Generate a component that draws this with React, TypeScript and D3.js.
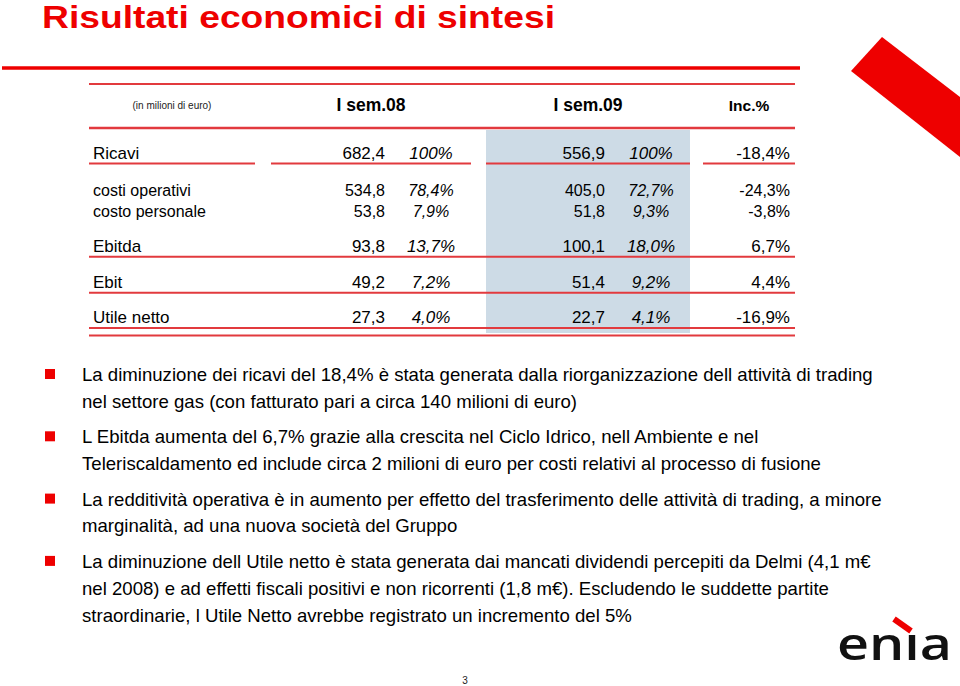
import React from 'react';
import * as d3 from 'd3';

// ---------- DATA ----------
const title = 'Risultati economici di sintesi';
const unitNote = '(in milioni di euro)';
const columnHeaders = ['I sem.08', 'I sem.09', 'Inc.%'];
const rowLabels = ['Ricavi', 'costi operativi', 'costo personale', 'Ebitda', 'Ebit', 'Utile netto'];
const rowIsMajor = [true, false, false, true, true, true];
const sem08Values = [682.4, 534.8, 53.8, 93.8, 49.2, 27.3];
const sem08Share = [100, 78.4, 7.9, 13.7, 7.2, 4.0];
const sem09Values = [556.9, 405.0, 51.8, 100.1, 51.4, 22.7];
const sem09Share = [100, 72.7, 9.3, 18.0, 9.2, 4.1];
const incPct = [-18.4, -24.3, -3.8, 6.7, 4.4, -16.9];
const bullets = [
  [
    'La diminuzione dei ricavi del 18,4% è stata generata dalla riorganizzazione dell attività di trading',
    'nel settore gas (con fatturato pari a circa 140 milioni di euro)',
  ],
  [
    'L Ebitda aumenta del 6,7% grazie alla crescita nel Ciclo Idrico, nell Ambiente e nel',
    'Teleriscaldamento ed include circa 2 milioni di euro per costi relativi al processo di fusione',
  ],
  [
    'La redditività operativa è in aumento per effetto del trasferimento delle attività di trading, a minore',
    'marginalità, ad una nuova società del Gruppo',
  ],
  [
    'La diminuzione dell Utile netto è stata generata dai mancati dividendi percepiti da Delmi (4,1 m€',
    'nel 2008) e ad effetti fiscali positivi e  non ricorrenti (1,8 m€). Escludendo le suddette partite',
    'straordinarie, l Utile Netto avrebbe registrato un incremento del 5%',
  ],
];
const pageNumber = '3';
const logoText = 'enıa';

// ---------- LAYOUT ----------
const W = 960;
const H = 686;
const FONT = '"Liberation Sans", Arial, Helvetica, sans-serif';
const RED = '#ee0000';
const LINE_RED = '#e23a3e';
const BLUE = '#cddbe6';

const locale = d3.formatLocale({ decimal: ',', thousands: '.', grouping: [3], currency: ['', '€'], minus: '-' });
const fmtVal = locale.format('.1f');
const fmtPct = (v: number) => (v === 100 ? '100%' : locale.format('.1f')(v) + '%');

// baseline of each row (slot units mapped by a linear scale)
const rowSlots = [0, 1.03, 1.6, 2.57, 3.56, 4.53];
const yRow = d3.scaleLinear().domain([0, 1]).range([159, 195.3]);

// column anchors
const colX = {
  label: 93,
  v08: 385,
  p08: 431,
  v09: 605,
  p09: 651,
  inc: 790,
};
const headerX = [371, 588, 749];
const tableLeft = 89;
const tableRight = 795;

const bulletLineGap = 26.8;
const bulletStart = 381;
const bulletGroupGap = 35.5;

export default function App() {
  const bulletYs: number[][] = [];
  let y = bulletStart;
  bullets.forEach((b, i) => {
    if (i > 0) y += bulletGroupGap - bulletLineGap;
    const ys: number[] = [];
    b.forEach((_, j) => {
      if (j > 0 || i > 0) y += bulletLineGap;
      ys.push(y);
    });
    bulletYs.push(ys);
  });
  const rowsY = rowSlots.map((s) => yRow(s));
  const lineY = (i: number) => rowsY[i] + 4.5;

  return (
    <svg
      width={W}
      height={H}
      viewBox={`0 0 ${W} ${H}`}
      style={{ position: 'absolute', left: 0, top: 0, background: '#fff' }}
      fontFamily={FONT}
    >
      <rect x={0} y={0} width={W} height={H} fill="#fff" />

      {/* title */}
      <text x={42} y={28} fontSize={32} fontWeight="bold" fill={RED} textLength={513} lengthAdjust="spacingAndGlyphs">
        {title}
      </text>

      {/* decorative red band top-right */}
      <polygon points="882,37 851,71 960,157 960,97" fill={RED} />

      {/* top rules */}
      <line x1={2} x2={800} y1={68} y2={68} stroke={RED} strokeWidth={3.5} />
      <line x1={tableLeft} x2={tableRight} y1={84} y2={84} stroke={LINE_RED} strokeWidth={2} />

      {/* highlighted column */}
      <rect x={486} y={130} width={204} height={203} fill={BLUE} />

      {/* header */}
      <text x={172} y={109} fontSize={10} textAnchor="middle" fill="#222">
        {unitNote}
      </text>
      {columnHeaders.map((h, i) => (
        <text
          key={h}
          x={headerX[i]}
          y={111}
          fontSize={i === 2 ? 15.5 : 17.5}
          fontWeight="bold"
          textAnchor="middle"
          fill="#000"
        >
          {h}
        </text>
      ))}
      <line x1={tableLeft} x2={tableRight} y1={128} y2={128} stroke={LINE_RED} strokeWidth={2.5} />

      {/* Ricavi segmented underline */}
      {[
        [tableLeft, 255],
        [271, 471],
        [486, 690],
        [703, tableRight],
      ].map(([a, b], i) => (
        <line key={i} x1={a} x2={b} y1={lineY(0)} y2={lineY(0)} stroke={LINE_RED} strokeWidth={2} />
      ))}
      {[3, 4, 5].map((r) => (
        <line key={r} x1={tableLeft} x2={tableRight} y1={lineY(r)} y2={lineY(r)} stroke={LINE_RED} strokeWidth={2} />
      ))}
      <line x1={tableLeft} x2={tableRight} y1={lineY(5) + 7.5} y2={lineY(5) + 7.5} stroke={LINE_RED} strokeWidth={2} />

      {/* rows */}
      {rowLabels.map((lab, i) => {
        const fs = rowIsMajor[i] ? 17 : 16;
        const yy = rowsY[i];
        return (
          <g key={lab} fontSize={fs} fill="#000">
            <text x={colX.label} y={yy}>{lab}</text>
            <text x={colX.v08} y={yy} textAnchor="end">{fmtVal(sem08Values[i])}</text>
            <text x={colX.p08} y={yy} textAnchor="middle" fontStyle="italic">{fmtPct(sem08Share[i])}</text>
            <text x={colX.v09} y={yy} textAnchor="end">{fmtVal(sem09Values[i])}</text>
            <text x={colX.p09} y={yy} textAnchor="middle" fontStyle="italic">{fmtPct(sem09Share[i])}</text>
            <text x={colX.inc} y={yy} textAnchor="end">{locale.format('.1f')(incPct[i]) + '%'}</text>
          </g>
        );
      })}

      {/* bullets */}
      {bullets.map((b, i) => (
        <g key={i}>
          <rect x={45} y={bulletYs[i][0] - 12} width={10} height={10} fill={RED} />
          {b.map((line, j) => (
            <text key={j} x={82} y={bulletYs[i][j]} fontSize={18.6} fill="#000">
              {line}
            </text>
          ))}
        </g>
      ))}

      {/* page number */}
      <text x={465} y={684} fontSize={10} textAnchor="middle" fill="#222">
        {pageNumber}
      </text>

      {/* logo */}
      <line x1={894} y1={619} x2={911} y2={631} stroke={RED} strokeWidth={6} />
      <text
        x={837}
        y={660}
        fontSize={46}
        fontWeight={600}
        fontFamily='"Open Sans", "DejaVu Sans", sans-serif'
        fill="#111"
        textLength={115}
        lengthAdjust="spacingAndGlyphs"
      >
        {logoText}
      </text>
    </svg>
  );
}
